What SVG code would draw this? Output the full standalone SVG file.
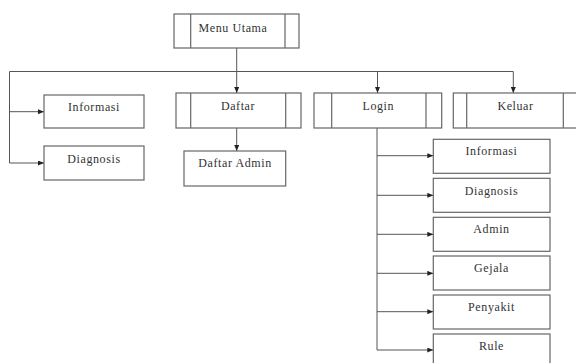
<svg xmlns="http://www.w3.org/2000/svg" width="576" height="363" viewBox="0 0 576 363">
<defs>
<marker id="ah" markerWidth="6" markerHeight="5" refX="6" refY="2.5" orient="auto" markerUnits="userSpaceOnUse">
<path d="M0,0 L6,2.5 L0,5 Z" fill="#222"/>
</marker>
<style>
.box{fill:#fff;stroke:#666;stroke-width:1.2}
.in{stroke:#666;stroke-width:1.2;fill:none}
.t{font-family:"Liberation Serif","Times New Roman",serif;font-size:12px;fill:#333;text-anchor:middle;letter-spacing:0.6px}
.c{stroke:#555;stroke-width:1;fill:none}
.a{marker-end:url(#ah)}
</style>
</defs>
<rect width="576" height="363" fill="#fff"/>
<g id="connectors">
<line class="c" x1="236.7" y1="48" x2="236.7" y2="71.5"/>
<line class="c" x1="9.5" y1="71.5" x2="513.3" y2="71.5"/>
<line class="c" x1="9.5" y1="71.5" x2="9.5" y2="163"/>
<line class="c a" x1="9.5" y1="111.7" x2="44" y2="111.7"/>
<line class="c a" x1="9.5" y1="163" x2="44" y2="163"/>
<line class="c a" x1="236.7" y1="71.5" x2="236.7" y2="93"/>
<line class="c a" x1="377.5" y1="71.5" x2="377.5" y2="93"/>
<line class="c a" x1="513.3" y1="71.5" x2="513.3" y2="93"/>
<line class="c a" x1="236.7" y1="128" x2="236.7" y2="151"/>
<line class="c" x1="377" y1="128" x2="377" y2="350"/>
<line class="c a" x1="377" y1="155.7" x2="433.3" y2="155.7"/>
<line class="c a" x1="377" y1="195.3" x2="433.3" y2="195.3"/>
<line class="c a" x1="377" y1="234.3" x2="433.3" y2="234.3"/>
<line class="c a" x1="377" y1="273.3" x2="433.3" y2="273.3"/>
<line class="c a" x1="377" y1="311.7" x2="433.3" y2="311.7"/>
<line class="c a" x1="377" y1="350" x2="433.3" y2="350"/>
</g>
<g id="menu-utama">
<rect class="box" x="174" y="14" width="125" height="34"/>
<line class="in" x1="190.7" y1="14" x2="190.7" y2="48"/>
<line class="in" x1="285" y1="14" x2="285" y2="48"/>
<text class="t" x="233" y="32">Menu Utama</text>
</g>
<g id="informasi">
<rect class="box" x="44" y="95" width="100" height="33"/>
<text class="t" x="94" y="111">Informasi</text>
</g>
<g id="diagnosis">
<rect class="box" x="44" y="146" width="100" height="34"/>
<text class="t" x="94" y="162.5">Diagnosis</text>
</g>
<g id="daftar">
<rect class="box" x="176" y="93" width="125" height="35"/>
<line class="in" x1="190.7" y1="93" x2="190.7" y2="128"/>
<line class="in" x1="285.7" y1="93" x2="285.7" y2="128"/>
<text class="t" x="238" y="109.7">Daftar</text>
</g>
<g id="daftar-admin">
<rect class="box" x="184" y="151" width="101.7" height="35"/>
<text class="t" x="235" y="167">Daftar  Admin</text>
</g>
<g id="login">
<rect class="box" x="314" y="93" width="127.7" height="35"/>
<line class="in" x1="331.7" y1="93" x2="331.7" y2="128"/>
<line class="in" x1="426" y1="93" x2="426" y2="128"/>
<text class="t" x="378.3" y="110.3">Login</text>
</g>
<g id="keluar">
<rect class="box" x="453.3" y="93" width="130" height="35"/>
<line class="in" x1="466.7" y1="93" x2="466.7" y2="128"/>
<line class="in" x1="563.3" y1="93" x2="563.3" y2="128"/>
<text class="t" x="515.5" y="110.3">Keluar</text>
</g>
<g id="login-informasi">
<rect class="box" x="433.3" y="139.3" width="116.7" height="34"/>
<text class="t" x="491.5" y="155">Informasi</text>
</g>
<g id="login-diagnosis">
<rect class="box" x="433.3" y="178.3" width="116.7" height="34"/>
<text class="t" x="491.5" y="194.5">Diagnosis</text>
</g>
<g id="login-admin">
<rect class="box" x="433.3" y="217.3" width="116.7" height="34"/>
<text class="t" x="491.5" y="232.5">Admin</text>
</g>
<g id="login-gejala">
<rect class="box" x="433.3" y="256" width="116.7" height="34"/>
<text class="t" x="491.5" y="271.5">Gejala</text>
</g>
<g id="login-penyakit">
<rect class="box" x="433.3" y="295" width="116.7" height="34"/>
<text class="t" x="491.5" y="310.5">Penyakit</text>
</g>
<g id="login-rule">
<rect class="box" x="433.3" y="334" width="116.7" height="34"/>
<text class="t" x="491.5" y="349.5">Rule</text>
</g>
</svg>
